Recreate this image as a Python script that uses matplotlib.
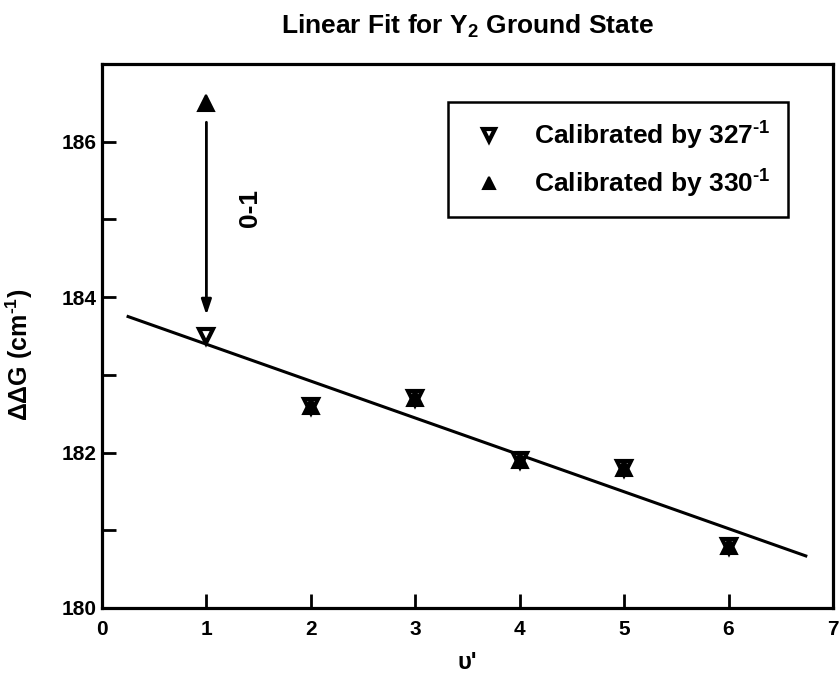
import numpy as np
import matplotlib
matplotlib.use('Agg')
import matplotlib.pyplot as plt

## ---- Linear fit of the Y2 ground state vibrational spacings ---- ##

plt.rcParams['font.family'] = ['Liberation Sans', 'DejaVu Sans']
plt.rcParams['font.weight'] = 'bold'
plt.rcParams['mathtext.fontset'] = 'custom'
plt.rcParams['mathtext.rm'] = 'Liberation Sans:bold'
plt.rcParams['mathtext.it'] = 'Liberation Sans:bold'
plt.rcParams['mathtext.bf'] = 'Liberation Sans:bold'
plt.rcParams['mathtext.default'] = 'rm'

# vibrational level v' and spacing dG (cm^-1)
v = [1, 2, 3, 4, 5, 6]
dg_327 = [183.5, 182.6, 182.7, 181.9, 181.8, 180.8]
dg_330 = [186.5, 182.6, 182.7, 181.9, 181.8, 180.8]

# fitted line end points
fit_x = [0.25, 6.74]
fit_y = [183.75, 180.67]

fig = plt.figure(figsize=(8.4, 6.8), dpi=100)
ax = fig.add_axes([0.1214, 0.1059, 0.8702, 0.80])

ax.plot(fit_x, fit_y, color='black', lw=2.2, zorder=2)

ax.plot(v, dg_327, linestyle='none', marker='v', ms=10, mfc='white', mec='black',
        mew=3, label=r'Calibrated by 327$^{\text{-}1}$', zorder=3)
ax.plot(v, dg_330, linestyle='none', marker='^', ms=11, mfc='black', mec='black',
        mew=1.5, label=r'Calibrated by 330$^{\text{-}1}$', zorder=4)

# shift of the 0-1 spacing between the two calibrations
ax.annotate('', xy=(v[0], dg_327[0] + 0.27), xytext=(v[0], dg_330[0] - 0.25),
            arrowprops=dict(arrowstyle='-|>,head_length=0.9,head_width=0.3',
                            lw=2, color='black', shrinkA=0, shrinkB=0))
ax.text(1.42, 185.15, '0-1', rotation=90, fontsize=19, fontweight='bold',
        ha='center', va='center')

ax.set_xlim(0, 7)
ax.set_ylim(180, 187)
ax.set_xticks(np.arange(0, 8, 1))
ax.set_yticks(np.arange(180, 187, 2))
ax.set_yticks(np.arange(181, 187, 2), minor=True)
ax.tick_params(axis='both', which='both', direction='in', width=2, labelsize=15)
ax.tick_params(axis='both', which='major', length=10)
ax.tick_params(axis='y', which='minor', length=10)
ax.tick_params(axis='x', pad=9)
for s in ax.spines.values():
    s.set_linewidth(2.3)

ax.set_xlabel("υ'", fontsize=17, fontweight='bold', labelpad=8)
ax.set_ylabel(r'ΔΔG (cm$^{\text{-}1}$)', fontsize=18, fontweight='bold')
ax.yaxis.set_label_coords(-0.092, 0.465)
ax.set_title('Linear Fit for Y$_2$ Ground State', fontsize=19, fontweight='bold', pad=22)

leg = ax.legend(loc='upper right', bbox_to_anchor=(0.938, 0.930), borderaxespad=0,
                fontsize=19, frameon=True, fancybox=False, edgecolor='black',
                framealpha=1, markerscale=0.8, handlelength=1.8, handletextpad=0.8,
                borderpad=0.66, labelspacing=0.6)
leg.get_frame().set_linewidth(1.8)

plt.savefig('out.png', dpi=100)
